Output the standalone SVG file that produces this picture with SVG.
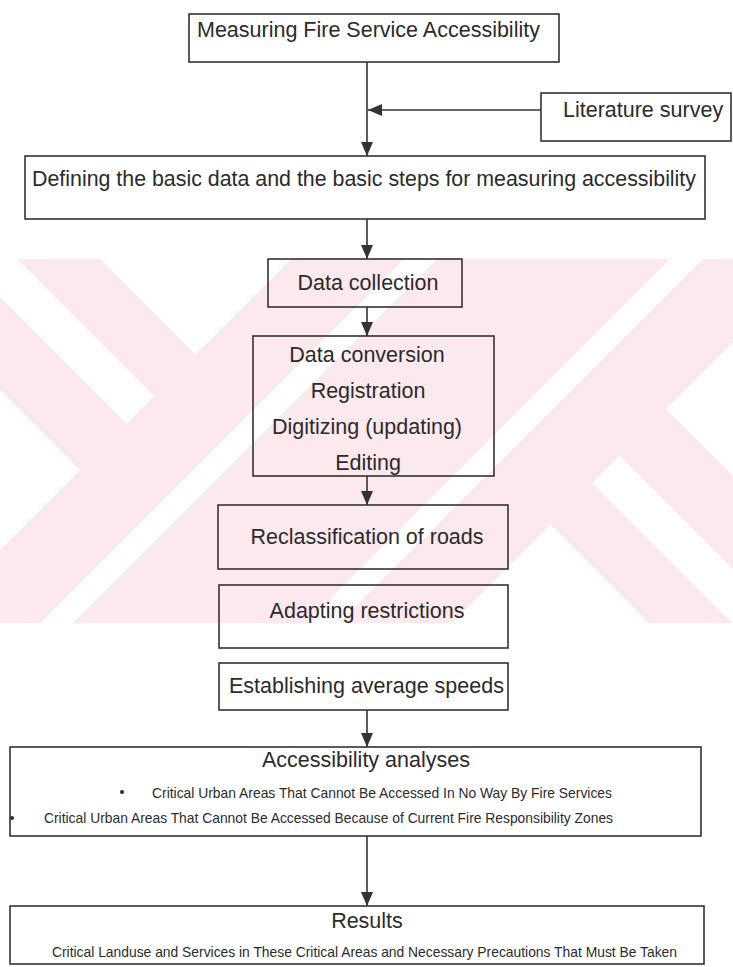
<svg xmlns="http://www.w3.org/2000/svg" width="733" height="967" viewBox="0 0 733 967">
<style>
.box{fill:none;stroke:#333;stroke-width:1.6}
.t{font-family:"Liberation Sans",Arial,sans-serif;font-size:21.5px;fill:#2b2b2b}
.s{font-family:"Liberation Sans",Arial,sans-serif;font-size:15px;fill:#2b2b2b}
.c{text-anchor:middle}
.ln{fill:none;stroke:#333;stroke-width:1.6}
.wm{fill:#fff}
</style>
<defs>
<marker id="ah" markerUnits="userSpaceOnUse" markerWidth="15" markerHeight="13" refX="14" refY="6" orient="auto">
<path d="M0,0 L14,6 L0,12 z" fill="#333"/>
</marker>
<clipPath id="band"><rect x="0" y="259" width="733" height="364"/></clipPath>
</defs>
<rect width="733" height="967" fill="#fff"/>
<g id="watermark" clip-path="url(#band)">
<rect x="0" y="259" width="733" height="364" fill="#fce9ed"/>
<polygon class="wm" points="95,254 195.5,354.5 296,254"/>
<polygon class="wm" points="-42,200 154,396 126.5,423.5 -97,200"/>
<polygon class="wm" points="80,470 -200,190 -200,750"/>
<polygon class="wm" points="-100,763 763,-100 796,-100 -100,796"/>
<polygon class="wm" points="-100,1029 1029,-100 1062,-100 -100,1062"/>
<polygon class="wm" points="666,409 946,689 946,129"/>
<polygon class="wm" points="788,679 592,483 619.5,455.5 843,679"/>
<polygon class="wm" points="651,625 550.5,524.5 450,625"/>
</g>
<g id="connectors">
<line class="ln" x1="367" y1="62" x2="367" y2="156" marker-end="url(#ah)"/>
<line class="ln" x1="541" y1="110" x2="368" y2="110" marker-end="url(#ah)"/>
<line class="ln" x1="367" y1="219" x2="367" y2="259" marker-end="url(#ah)"/>
<line class="ln" x1="367" y1="307" x2="367" y2="336" marker-end="url(#ah)"/>
<line class="ln" x1="367" y1="476" x2="367" y2="505" marker-end="url(#ah)"/>
<line class="ln" x1="367" y1="710" x2="367" y2="747" marker-end="url(#ah)"/>
<line class="ln" x1="367" y1="836" x2="367" y2="906" marker-end="url(#ah)"/>
</g>
<g id="n-measuring">
<rect class="box" x="189" y="14" width="370" height="48"/>
<text class="t" x="197" y="37">Measuring Fire Service Accessibility</text>
</g>
<g id="n-literature">
<rect class="box" x="541" y="93" width="190" height="48"/>
<text class="t" x="563" y="117">Literature survey</text>
</g>
<g id="n-defining">
<rect class="box" x="25" y="156" width="680" height="63"/>
<text class="t" x="32" y="186" textLength="664" lengthAdjust="spacingAndGlyphs">Defining the basic data and the basic steps for measuring accessibility</text>
</g>
<g id="n-collection">
<rect class="box" x="268" y="259" width="194" height="48"/>
<text class="t c" x="368" y="290">Data collection</text>
</g>
<g id="n-conversion">
<rect class="box" x="253" y="336" width="241" height="140"/>
<text class="t c" x="367" y="362">Data conversion</text>
<text class="t c" x="368" y="398">Registration</text>
<text class="t c" x="367" y="434">Digitizing (updating)</text>
<text class="t c" x="368" y="470">Editing</text>
</g>
<g id="n-reclass">
<rect class="box" x="218" y="505" width="290" height="64"/>
<text class="t c" x="367" y="544">Reclassification of roads</text>
</g>
<g id="n-adapt">
<rect class="box" x="219" y="585" width="289" height="63"/>
<text class="t c" x="367" y="618">Adapting restrictions</text>
</g>
<g id="n-speeds">
<rect class="box" x="219" y="663" width="289" height="47"/>
<text class="t" x="229" y="693">Establishing average speeds</text>
</g>
<g id="n-analyses">
<rect class="box" x="10" y="747" width="691" height="89"/>
<text class="t c" x="366" y="767">Accessibility analyses</text>
<circle cx="122" cy="792" r="2" fill="#2b2b2b"/>
<text class="s" x="152" y="798" textLength="460" lengthAdjust="spacingAndGlyphs">Critical Urban Areas That Cannot Be Accessed In No Way By Fire Services</text>
<circle cx="12" cy="818" r="2" fill="#2b2b2b"/>
<text class="s" x="44" y="823" textLength="569" lengthAdjust="spacingAndGlyphs">Critical Urban Areas That Cannot Be Accessed Because of Current Fire Responsibility Zones</text>
</g>
<g id="n-results">
<rect class="box" x="10" y="906" width="694" height="58"/>
<text class="t c" x="367" y="928">Results</text>
<text class="s" x="52" y="957" textLength="625" lengthAdjust="spacingAndGlyphs">Critical Landuse and Services in These Critical Areas and Necessary Precautions That Must Be Taken</text>
</g>
</svg>
